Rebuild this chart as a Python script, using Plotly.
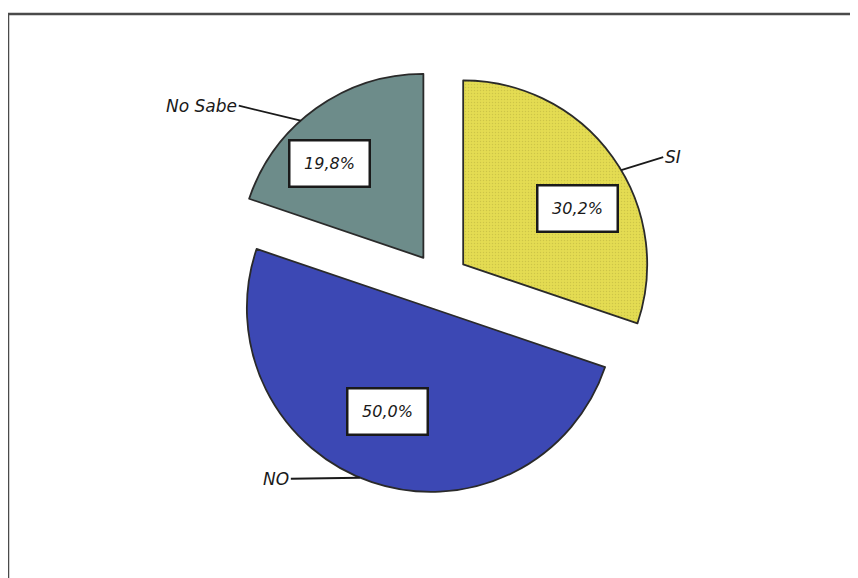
import math
import plotly.graph_objects as go

# datos
categorias = ["SI", "NO", "No Sabe"]
porcentajes = [30.2, 50.0, 19.8]
colores = ["#e4dc52", "#3c48b4", "#6d8c8a"]

W, H = 858, 578
PULL = 0.155
# centro y radio del pastel en pixeles (coordenadas de la figura)
CX, CY, R = 432, 273, 184
side = 2 * R * (1 + PULL)
dom_x = [(CX - side / 2) / W, (CX + side / 2) / W]
dom_y = [1 - (CY + side / 2) / H, 1 - (CY - side / 2) / H]

fig = go.Figure()
fig.add_trace(go.Pie(
    labels=categorias,
    values=porcentajes,
    sort=False,
    direction="clockwise",
    rotation=0,
    pull=[PULL] * len(categorias),
    textinfo="none",
    hoverinfo="label+percent",
    marker=dict(
        colors=colores,
        line=dict(color="#2a2a2a", width=1.8),
        pattern=dict(shape=[".", "", ""], fgcolor="#b5ad3c", bgcolor=colores,
                     size=3, solidity=0.2, fillmode="overlay"),
    ),
    domain=dict(x=dom_x, y=dom_y),
    showlegend=False,
))


def punto(ang, dist, base=(CX, CY)):
    a = math.radians(ang)
    return base[0] + dist * math.sin(a), base[1] - dist * math.cos(a)


def paper(px, py):
    return px / W, 1 - py / H


# angulos medios de cada porcion (desde arriba, sentido horario)
total = sum(porcentajes)
acum = 0
medios = []
for v in porcentajes:
    medios.append((acum + v / 2) / total * 360)
    acum += v

# posicion de las cajas y de las etiquetas externas (estilo)
caja_frac = [0.695, 0.607, 0.723]
caja_giro = [9.5, 3.9, -9]
punta_ang = [59.2, 202.7, 318.2]
cola = [(42, -13), (-69, 1), (-62, -15)]
anclas = ["left", "right", "right"]

for i, (cat, v) in enumerate(zip(categorias, porcentajes)):
    vertice = punto(medios[i], PULL * R)
    bx, by = punto(medios[i] + caja_giro[i], caja_frac[i] * R, vertice)
    x, y = paper(bx, by)
    fig.add_annotation(
        x=x, y=y, xref="paper", yref="paper", showarrow=False,
        xanchor="center", yanchor="middle",
        text="<i>" + f"{v:.1f}%".replace(".", ",") + "</i>",
        font=dict(family="DejaVu Sans", size=16, color="#1a1a1a"),
        bgcolor="white", bordercolor="#1a1a1a", borderwidth=2.5,
        width=78, height=44, borderpad=0,
    )
    tx, ty = punto(punta_ang[i], R, vertice)
    x, y = paper(tx, ty)
    fig.add_annotation(
        x=x, y=y, xref="paper", yref="paper",
        ax=cola[i][0], ay=cola[i][1],
        text="<i>" + cat + "</i>", showarrow=True, arrowhead=0, arrowwidth=1.8,
        arrowcolor="#1a1a1a", xanchor=anclas[i],
        font=dict(family="DejaVu Sans", size=17, color="#1a1a1a"),
    )

# marco
fig.add_shape(type="rect", xref="paper", yref="paper",
              x0=0, x1=1.02, y0=-0.02, y1=1 - 6 / H,
              line=dict(color="#4a4a4a", width=2.5))

fig.update_layout(
    width=W, height=H,
    margin=dict(l=0, r=0, t=0, b=0),
    paper_bgcolor="white",
    plot_bgcolor="white",
)

fig.write_html("out.html")
